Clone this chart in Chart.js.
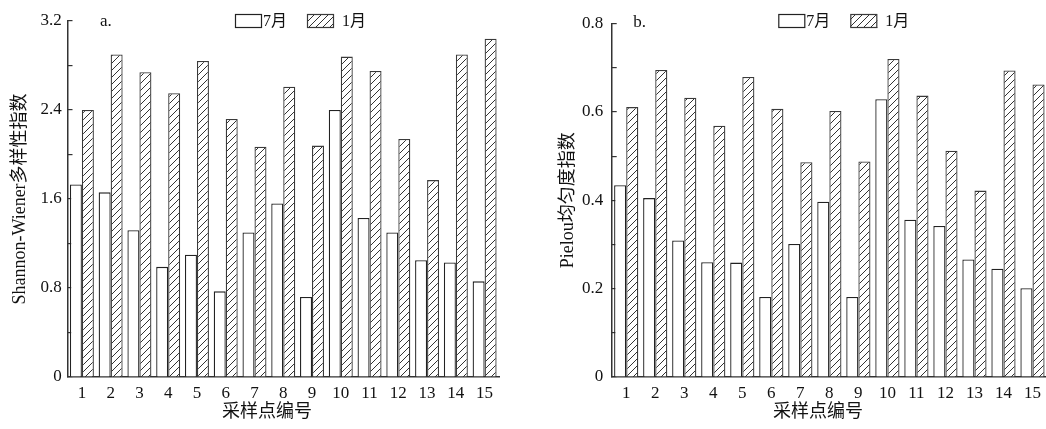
<!DOCTYPE html>
<html>
<head>
<meta charset="utf-8">
<script src="https://cdn.jsdelivr.net/npm/chart.js@4/dist/chart.umd.min.js"></script>
<style>
  html, body { margin: 0; padding: 0; background: #fff; width: 1046px; height: 429px; overflow: hidden; }
  .panel { position: absolute; top: 0; }
  #panelA { left: 0; }
  #panelB { left: 520px; }
</style>
</head>
<body>
<div class="panel" id="panelA"><canvas id="chartA" width="520" height="429"></canvas></div>
<div class="panel" id="panelB"><canvas id="chartB" width="527" height="429"></canvas></div>
<script>
// Sampling sites and the two sampling months
const sites = ['1', '2', '3', '4', '5', '6', '7', '8', '9', '10', '11', '12', '13', '14', '15'];
const months = ['7月', '1月'];

// Shannon-Wiener diversity index per site
const shannonJul = [1.73, 1.66, 1.32, 0.99, 1.10, 0.77, 1.30, 1.56, 0.72, 2.40, 1.43, 1.30, 1.05, 1.03, 0.86];
const shannonJan = [2.40, 2.90, 2.74, 2.55, 2.84, 2.32, 2.07, 2.61, 2.08, 2.88, 2.75, 2.14, 1.77, 2.90, 3.04];

// Pielou evenness index per site
const pielouJul = [0.434, 0.405, 0.309, 0.260, 0.259, 0.181, 0.301, 0.397, 0.181, 0.629, 0.356, 0.342, 0.266, 0.245, 0.201];
const pielouJan = [0.611, 0.695, 0.632, 0.569, 0.679, 0.607, 0.486, 0.602, 0.488, 0.720, 0.637, 0.512, 0.422, 0.694, 0.662];

// Labelled y ticks (minor ticks in between stay unlabelled)
const shannonTickLabels = ['0', '0.8', '1.6', '2.4', '3.2'];
const pielouTickLabels = ['0', '0.2', '0.4', '0.6', '0.8'];

const SERIF = "'Liberation Serif', 'Times New Roman', 'Noto Sans CJK SC', serif";
const INK = '#111';
const AXIS = '#333';

// Diagonal hatch fill for the January bars
function makeHatch(ctx) {
  const s = 7;
  const c = document.createElement('canvas');
  c.width = s; c.height = s;
  const g = c.getContext('2d');
  g.fillStyle = '#fff';
  g.fillRect(0, 0, s, s);
  g.strokeStyle = '#333';
  g.lineWidth = 1;
  g.beginPath();
  g.moveTo(0, s); g.lineTo(s, 0);
  g.moveTo(-2, 2); g.lineTo(2, -2);
  g.moveTo(s - 2, s + 2); g.lineTo(s + 2, s - 2);
  g.stroke();
  return ctx.createPattern(c, 'repeat');
}

// Panel letter, in-plot legend and x-axis title
const panelDecor = {
  id: 'panelDecor',
  afterDraw(chart, args, o) {
    const { ctx, chartArea: ca } = chart;
    ctx.save();
    ctx.fillStyle = INK;
    ctx.textAlign = 'left';
    ctx.textBaseline = 'alphabetic';
    ctx.font = `17px ${SERIF}`;
    ctx.fillText(o.letter, ca.left + o.letterX, o.letterY);

    // legend swatches
    ctx.font = `16px ${SERIF}`;
    ctx.textBaseline = 'middle';
    let x = ca.left + o.legendX;
    chart.data.datasets.forEach((ds, i) => {
      ctx.fillStyle = ds.backgroundColor;
      ctx.fillRect(x, o.legendY, o.boxW, o.boxH);
      ctx.strokeStyle = ds.borderColor;
      ctx.lineWidth = 1.2;
      ctx.strokeRect(x + 0.5, o.legendY + 0.5, o.boxW - 1, o.boxH - 1);
      ctx.fillStyle = INK;
      ctx.fillText(ds.label, x + o.boxW + o.textGap[i], o.legendY + o.boxH / 2 + 1);
      x += o.itemStep;
    });

    // x-axis title
    ctx.font = `18px ${SERIF}`;
    ctx.textAlign = 'center';
    ctx.fillText(o.xTitle, ca.left + o.xTitleX, o.xTitleY);
    ctx.restore();
  }
};

function tickLabel(value, labels, major) {
  const k = Math.round(value / major * 2);
  return k % 2 === 0 ? labels[k / 2] : '';
}

function makeChart(id, cfg) {
  const canvas = document.getElementById(id);
  const ctx = canvas.getContext('2d');
  const hatch = makeHatch(ctx);
  const barOpts = { categoryPercentage: 0.834, barPercentage: 1.0, borderWidth: 1.3, borderSkipped: 'start' };
  return new Chart(ctx, {
    type: 'bar',
    data: {
      labels: sites,
      datasets: [
        Object.assign({ label: months[0], data: cfg.jul, backgroundColor: '#fff', borderColor: '#222' }, barOpts),
        Object.assign({ label: months[1], data: cfg.jan, backgroundColor: hatch, borderColor: '#3a3a3a' }, barOpts)
      ]
    },
    options: {
      responsive: false,
      animation: false,
      events: [],
      layout: { padding: { left: 0, right: cfg.padRight, top: cfg.padTop, bottom: 0 } },
      plugins: {
        legend: { display: false },
        tooltip: { enabled: false },
        panelDecor: cfg.decor
      },
      scales: {
        x: {
          afterFit(s) { s.height = 52; },
          border: { display: true, color: AXIS, width: 1.5 },
          grid: { display: false, drawTicks: false },
          ticks: { padding: 6, color: INK, font: { family: SERIF, size: 17 }, maxRotation: 0, autoSkip: false }
        },
        y: {
          min: 0,
          max: cfg.max,
          afterFit(s) { s.width = cfg.axisLeft; },
          border: { display: true, color: AXIS, width: 1.5 },
          grid: { drawOnChartArea: false, drawTicks: true, tickLength: -5, color: AXIS, lineWidth: 1.2 },
          ticks: {
            stepSize: cfg.step,
            padding: cfg.tickPad,
            color: INK,
            font: { family: SERIF, size: 17 },
            callback: v => tickLabel(v, cfg.tickLabels, cfg.step * 2)
          },
          title: {
            display: true,
            text: cfg.yTitle,
            color: INK,
            font: { family: SERIF, size: 18 },
            padding: { top: cfg.titlePad, bottom: 0 }
          }
        }
      }
    },
    plugins: [panelDecor]
  });
}

makeChart('chartA', {
  jul: shannonJul, jan: shannonJan,
  max: 3.2, step: 0.4, tickLabels: shannonTickLabels,
  axisLeft: 67.5, tickPad: 10.8, titlePad: 9, padTop: 18, padRight: 21,
  yTitle: 'Shannon-Wiener多样性指数',
  decor: {
    letter: 'a.', letterX: 32.5, letterY: 26,
    legendX: 167.5, legendY: 14, boxW: 27, boxH: 14, itemStep: 72, textGap: [1, 8],
    xTitle: '采样点编号', xTitleX: 199.5, xTitleY: 412
  }
});

makeChart('chartB', {
  jul: pielouJul, jan: pielouJan,
  max: 0.8, step: 0.1, tickLabels: pielouTickLabels,
  axisLeft: 91.7, tickPad: 13.4, titlePad: 37, padTop: 19, padRight: 0,
  yTitle: 'Pielou均匀度指数',
  decor: {
    letter: 'b.', letterX: 21.6, letterY: 27,
    legendX: 166.6, legendY: 14, boxW: 27, boxH: 14, itemStep: 72, textGap: [1, 8],
    xTitle: '采样点编号', xTitleX: 206.3, xTitleY: 412
  }
});
</script>
</body>
</html>
